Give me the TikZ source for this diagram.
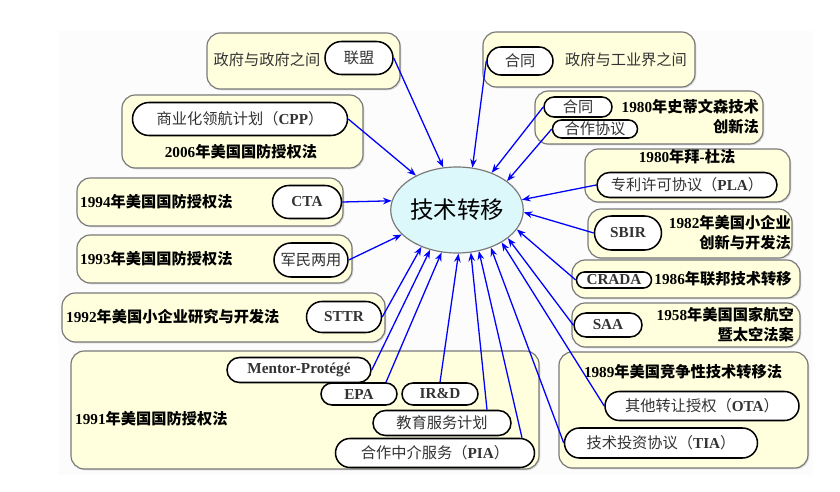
\documentclass[tikz,border=0pt]{standalone}
\usepackage{fontspec}
\setmainfont{Noto Sans CJK SC}
\newfontfamily\latinfont{Liberation Serif}
\newcommand\en[1]{{\latinfont\bfseries #1}}
\usepackage{tikz}
\usetikzlibrary{arrows.meta}
\usetikzlibrary{shapes.geometric,shapes.misc}
\usetikzlibrary{shadows}

\definecolor{lawfill}{RGB}{255,255,221}
\definecolor{lawedge}{RGB}{120,120,120}
\definecolor{hubfill}{RGB}{221,248,251}
\def\px{0.3mm}

\begin{document}
\begin{tikzpicture}[x=0.3mm,y=-0.3mm,font=\fontsize{13}{17}\selectfont,
  sz/.style 2 args={minimum width=#1*\px,minimum height=#2*\px},
  law/.style={draw=lawedge,fill=lawfill,line width=1pt,rounded corners=4mm,inner sep=0pt,
    drop shadow={opacity=0.25,shadow xshift=0.4mm,shadow yshift=-0.4mm}},
  note/.style={inner sep=0pt,text=black!80},
  title/.style={inner sep=0pt,font=\fontsize{13}{17}\selectfont\bfseries},
  pill/.style={rounded rectangle,draw=black,fill=white,line width=1.3pt,inner sep=0pt,text=black!80},
  hub/.style={ellipse,draw=lawedge,fill=hubfill,line width=1pt,inner sep=0pt,
    minimum width=130*\px,minimum height=86*\px,font=\fontsize{20}{24}\selectfont},
  link/.style={-{Stealth[length=2.6mm,width=2mm]},blue,line width=1.1pt}]

\useasboundingbox (0,0) rectangle (840,492);
\fill[black!1] (58,31) rectangle (813,475);

%law boxes
\node[law,sz={193}{56}] (gg) at (303.5,61) {};
\node[law,sz={212}{55}] (gi) at (589,59.5) {};
\node[law,sz={241}{73}] (a06) at (242.5,131.5) {};
\node[law,sz={228}{53}] (a80s) at (649,117.5) {};
\node[law,sz={205}{53}] (a80b) at (687.5,175.5) {};
\node[law,sz={204}{49}] (a82) at (690,233.5) {};
\node[law,sz={228}{38}] (a86) at (686,279) {};
\node[law,sz={228}{44}] (a58) at (686,325) {};
\node[law,sz={249}{116}] (a89) at (683.5,410) {};
\node[law,sz={266}{48}] (a94) at (210,202) {};
\node[law,sz={275}{48}] (a93) at (214.5,259) {};
\node[law,sz={323}{49}] (a92) at (223.5,317.5) {};
\node[law,sz={468}{118}] (a91) at (305,410) {};

%law titles
\node[note] (gg-t) at (267,60) {政府与政府之间};
\node[note] (gi-t) at (626,60) {政府与工业界之间};
\node[title] (a06-t) at (241,152) {\en{2006}年美国国防授权法};
\node[title,align=right,anchor=east] (a80s-t) at (759,117) {\en{1980}年史蒂文森技术\\创新法};
\node[title] (a80b-t) at (687,157) {\en{1980}年拜\en{-}杜法};
\node[title,align=right,anchor=east] (a82-t) at (791,233) {\en{1982}年美国小企业\\创新与开发法};
\node[title] (a86-t) at (723,279) {\en{1986}年联邦技术转移};
\node[title,align=right,anchor=east] (a58-t) at (794,325) {\en{1958}年美国国家航空\\暨太空法案};
\node[title] (a89-t) at (683,372) {\en{1989}年美国竞争性技术转移法};
\node[title,anchor=west] (a94-t) at (80,202) {\en{1994}年美国国防授权法};
\node[title,anchor=west] (a93-t) at (80,259) {\en{1993}年美国国防授权法};
\node[title,anchor=west] (a92-t) at (66,317) {\en{1992}年美国小企业研究与开发法};
\node[title,anchor=west] (a91-t) at (75,419) {\en{1991}年美国国防授权法};

%mechanisms
\node[pill,sz={68}{33}] (lm) at (359,58) {联盟};
\node[pill,sz={66}{28}] (ht1) at (520,61) {合同};
\node[pill,sz={215}{33}] (cpp) at (240,119) {商业化领航计划（\en{CPP}）};
\node[pill,sz={68}{20}] (ht2) at (578,107) {合同};
\node[pill,sz={85}{18}] (hz) at (595,129) {合作协议};
\node[pill,sz={180}{25}] (pla) at (687,185) {专利许可协议（\en{PLA}）};
\node[pill,sz={67}{34}] (sbir) at (628,233) {\en{SBIR}};
\node[pill,sz={75}{16}] (crada) at (614,280) {\en{CRADA}};
\node[pill,sz={68}{24}] (saa) at (608,325) {\en{SAA}};
\node[pill,sz={194}{29}] (ota) at (702,406) {其他转让授权（\en{OTA}）};
\node[pill,sz={193}{30}] (tia) at (661,443) {技术投资协议（\en{TIA}）};
\node[pill,sz={69}{33}] (cta) at (307,202) {\en{CTA}};
\node[pill,sz={74}{34}] (jm) at (311,260) {军民两用};
\node[pill,sz={75}{31}] (sttr) at (344,317) {\en{STTR}};
\node[pill,sz={144}{25}] (mp) at (299,370) {\en{Mentor-Protégé}};
\node[pill,sz={76}{22}] (epa) at (359,394) {\en{EPA}};
\node[pill,sz={76}{22}] (ird) at (440,394) {\en{IR\&D}};
\node[pill,sz={138}{25}] (edu) at (442,423) {教育服务计划};
\node[pill,sz={199}{29}] (pia) at (435,453) {合作中介服务（\en{PIA}）};

%hub
\node[hub] (tt) at (457,210) {技术转移};

%links
\draw[link] (lm.east) -- (tt.108);
\draw[link] (ht1.west) -- (tt.70);
\draw[link] (cpp.east) -- (tt.140);
\draw[link] (ht2.west) -- (tt.47);
\draw[link] (hz.west) -- (tt.30);
\draw[link] (pla.west) -- (tt.9);
\draw[link] (sbir.west) -- (tt.-2);
\draw[link] (crada.west) -- (tt.-18);
\draw[link] (saa.west) -- (tt.-29);
\draw[link] (ota.west) -- (tt.-36);
\draw[link] (tia.west) -- (tt.-48);
\draw[link] ([xshift=87*\px]pia.north) -- (tt.-62);
\draw[link] ([xshift=45*\px]edu.north) -- (tt.-72);
\draw[link] (ird.north) -- (tt.-88);
\draw[link] ([xshift=27*\px]epa.north) -- (tt.-110);
\draw[link] (mp.east) -- (tt.-124);
\draw[link] (sttr.east) -- (tt.-134);
\draw[link] (jm.east) -- (tt.-156);
\draw[link] (cta.east) -- (tt.172);
\end{tikzpicture}
\end{document}
